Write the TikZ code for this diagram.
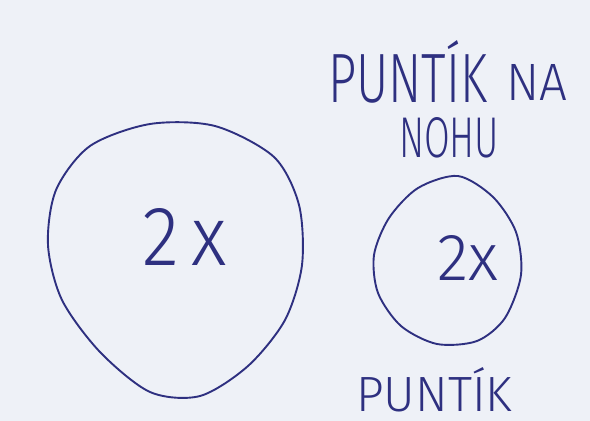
\documentclass[tikz,border=0pt]{standalone}
\usepackage{graphicx}
\usepackage{fontspec}
\newfontfamily\hand{Fira Sans Light}
\definecolor{paper}{HTML}{EEF1F7}
\definecolor{ink}{HTML}{2E3080}
\tikzset{
  pen/.style={draw=ink, line width=1.9pt, line join=round},
  lbl/.style={inner sep=0pt, anchor=base west, text=ink, font=\hand}
}
\begin{document}
\begin{tikzpicture}[x=1pt,y=-1pt]
\fill[paper] (0,0) rectangle (590,421);
\useasboundingbox (0,0) rectangle (590,421);
% big circle
\draw[pen] plot[smooth cycle] coordinates {
 (150,124) (215,126) (274,157) (299,205) (302,265) (285,320)
 (248,366) (200,396) (150,392) (100,352) (62,300) (48,245) (56,190) (90,146)};
% small circle
\draw[pen] plot[smooth cycle] coordinates {
 (458,176) (493,197) (516,232) (521,275) (505,318) (477,341)
 (437,344) (401,326) (378,293) (374,255) (389,218) (418,188)};
% texts
\node[lbl] (t1) at (328,102) {\resizebox{159pt}{62pt}{PUNTÍK}};
\node[lbl] (t2) at (506,100) {\resizebox{61pt}{36pt}{NA}};
\node[lbl] (t3) at (399,157) {\resizebox{100pt}{40pt}{NOHU}};
\node[lbl] (t4) at (356,411) {\resizebox{156pt}{44pt}{PUNTÍK}};
\node[lbl] (b2x) at (142,265) {\resizebox{85pt}{57pt}{2\,x}};
\node[lbl] (s2x) at (437,280) {\resizebox{61pt}{45pt}{2x}};
\end{tikzpicture}
\end{document}
